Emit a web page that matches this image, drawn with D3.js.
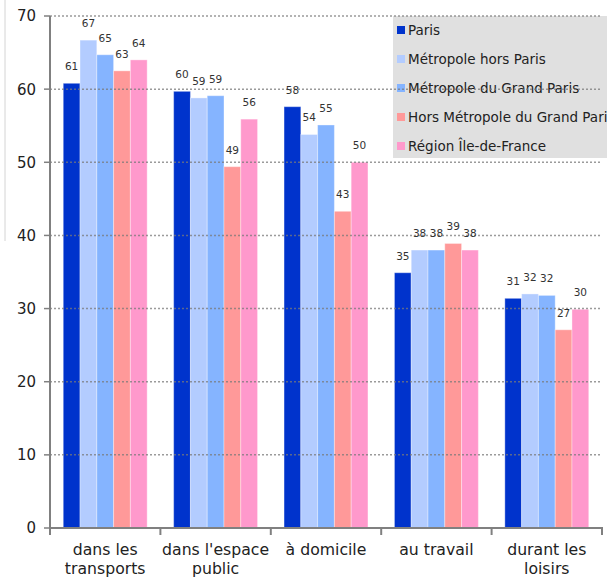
<!DOCTYPE html>
<html><head><meta charset="utf-8">
<script src="https://cdn.jsdelivr.net/npm/d3@7"></script>
<style>
body{margin:0;background:#fff;}
svg{display:block;font-family:"DejaVu Sans",Verdana,sans-serif;}
</style></head>
<body><svg id="c" width="607" height="578"></svg>
<script>
const categories = [["dans les","transports"],["dans l'espace","public"],["à domicile"],["au travail"],["durant les","loisirs"]];
const seriesNames = ["Paris","Métropole hors Paris","Métropole du Grand Paris","Hors Métropole du Grand Paris","Région Île-de-France"];
const colors = ["#0033cc","#b3ccff","#85b4ff","#ff9999","#ff99cc"];
const paris = [60.8,59.7,57.6,34.9,31.4];
const metroHorsParis = [66.7,58.8,53.8,38.0,32.0];
const metroGP = [64.7,59.1,55.1,38.0,31.8];
const horsMetroGP = [62.5,49.4,43.3,38.9,27.1];
const region = [64.0,55.9,50.0,38.0,29.9];
const labels = [[61,67,65,63,64],[60,59,59,49,56],[58,54,55,43,50],[35,38,38,39,38],[31,32,32,27,30]];
const yTicks = [0,10,20,30,40,50,60,70];

const series = [paris,metroHorsParis,metroGP,horsMetroGP,region];
const catKeys = categories.map((c,i)=>i);
const svg = d3.select("#c");

const x0 = d3.scaleBand().domain(catKeys).range([50,602]).padding(0);
const x1 = d3.scaleBand().domain(d3.range(series.length)).range([x0.bandwidth()*0.12, x0.bandwidth()*0.88]).padding(0);
const y = d3.scaleLinear().domain([0,70]).range([528,16]);

// left border line
svg.append("line").attr("x1",5).attr("x2",5).attr("y1",0).attr("y2",241).attr("stroke","#d4d4d4").attr("stroke-width",1);

// bars
const g = svg.append("g");
catKeys.forEach(ci=>{
  series.forEach((s,si)=>{
    g.append("rect")
      .attr("x",x0(ci)+x1(si))
      .attr("y",y(s[ci]))
      .attr("width",x1.bandwidth())
      .attr("height",y(0)-y(s[ci]))
      .attr("fill",colors[si])
      .attr("stroke","rgba(255,255,255,0.35)")
      .attr("stroke-width",1);
  });
});

// legend box
const lg = svg.append("g");
lg.append("rect").attr("x",393).attr("y",16).attr("width",220).attr("height",142).attr("fill","#e0e0e0");
seriesNames.forEach((n,i)=>{
  const cy = 30 + i*29;
  lg.append("rect").attr("x",397).attr("y",cy-4).attr("width",8).attr("height",8).attr("fill",colors[i]);
  lg.append("text").attr("x",408).attr("y",cy).attr("dy","0.36em").attr("font-size",13.5).attr("fill","#222").text(n);
});

// gridlines (drawn over)
yTicks.filter(t=>t>0).forEach(t=>{
  svg.append("line").attr("x1",50).attr("x2",602).attr("y1",y(t)).attr("y2",y(t))
    .attr("stroke","#7a7a7a").attr("stroke-width",1.5).attr("stroke-dasharray","2,2").attr("opacity",0.75);
});

// data labels
catKeys.forEach(ci=>{
  series.forEach((s,si)=>{
    svg.append("text")
      .attr("x",x0(ci)+x1(si)+x1.bandwidth()/2)
      .attr("y",y(s[ci])-13)
      .attr("text-anchor","middle")
      .attr("font-size",10.5)
      .attr("fill","#333")
      .text(labels[ci][si]);
  });
});

// axes
const axisColor = "#808080";
svg.append("line").attr("x1",50).attr("x2",50).attr("y1",y(70)).attr("y2",y(0)).attr("stroke",axisColor).attr("stroke-width",2);
svg.append("line").attr("x1",49).attr("x2",603).attr("y1",y(0)).attr("y2",y(0)).attr("stroke",axisColor).attr("stroke-width",2);
yTicks.forEach(t=>{
  svg.append("line").attr("x1",44).attr("x2",50).attr("y1",y(t)).attr("y2",y(t)).attr("stroke",axisColor).attr("stroke-width",1.5);
  svg.append("text").attr("x",36).attr("y",y(t)).attr("dy","0.36em").attr("text-anchor","end")
    .attr("font-size",15).attr("fill","#222").text(t);
});
const bounds = catKeys.map(c=>x0(c)).concat([x0.range()[1]]);
bounds.forEach(bx=>{
  svg.append("line").attr("x1",bx).attr("x2",bx).attr("y1",y(0)).attr("y2",y(0)+7).attr("stroke",axisColor).attr("stroke-width",2);
});
catKeys.forEach(ci=>{
  const t = svg.append("text").attr("text-anchor","middle").attr("font-size",15.7).attr("fill","#222");
  categories[ci].forEach((line,li)=>{
    t.append("tspan").attr("x",x0(ci)+x0.bandwidth()/2).attr("y",555+li*19).text(line);
  });
});
</script></body></html>
